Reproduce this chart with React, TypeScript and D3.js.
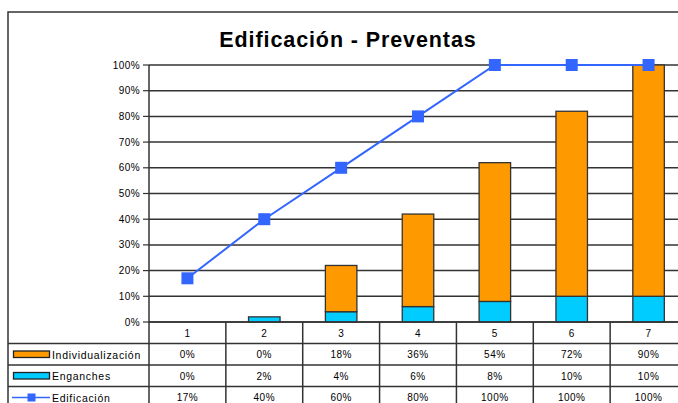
import React from "react";
import * as d3 from "d3";

const categories = ["1", "2", "3", "4", "5", "6", "7"];
const individualizacion = [0, 0, 18, 36, 54, 72, 90];
const enganches = [0, 2, 4, 6, 8, 10, 10];
const edificacion = [17, 40, 60, 80, 100, 100, 100];
const yTicks = [0, 10, 20, 30, 40, 50, 60, 70, 80, 90, 100];
const seriesNames = ["Individualización", "Enganches", "Edificación"];

const W = 678;
const H = 403;
const plotLeft = 149;
const plotRight = 687;
const plotTop = 65;
const plotBottom = 322;
const rowH = 21.5;
const frameX = 8;
const frameY = 12;

const ORANGE = "#FF9900";
const CYAN = "#00CCFF";
const BLUE = "#3366FF";
const GRID = "#333333";

export default function App() {
  const x = d3.scaleBand<string>().domain(categories).range([plotLeft, plotRight]).paddingInner(0).paddingOuter(0);
  const y = d3.scaleLinear().domain([0, 100]).range([plotBottom, plotTop]);
  const barW = x.bandwidth() * 0.41;
  const cx = (c: string) => (x(c) as number) + x.bandwidth() / 2;
  const fmt = (v: number) => `${v}%`;

  const line = d3
    .line<number>()
    .x((_, i) => cx(categories[i]))
    .y((d) => y(d));

  const rows = [individualizacion, enganches, edificacion];
  const rowTop = (r: number) => plotBottom + rowH * (r + 1);
  const tableBottom = rowTop(3);
  const font = "'Liberation Sans', Arial, sans-serif";

  return (
    <svg width={W} height={H} style={{ position: "absolute", left: 0, top: 0, background: "#fff" }} fontFamily={font}>
      <rect x={0} y={0} width={W} height={H} fill="#fff" />
      {/* frame */}
      <path d={`M${frameX},${H + 5} V${frameY} H${W + 5}`} fill="none" stroke="#333" strokeWidth={1.5} />
      <text x={348} y={47} textAnchor="middle" fontSize={21.5} fontWeight="bold" letterSpacing={0.9} fill="#000">
        Edificación - Preventas
      </text>
      {/* grid */}
      {yTicks.map((t) => (
        <g key={t}>
          <line x1={plotLeft} x2={W + 5} y1={y(t)} y2={y(t)} stroke={GRID} strokeWidth={1.5} />
          <line x1={plotLeft - 6} x2={plotLeft} y1={y(t)} y2={y(t)} stroke={GRID} strokeWidth={1.2} />
          <text x={plotLeft - 9} y={y(t) + 3.5} textAnchor="end" fontSize={10} letterSpacing={0.4} fill="#000">
            {fmt(t)}
          </text>
        </g>
      ))}
      {/* bars */}
      {categories.map((c, i) => {
        const x0 = cx(c) - barW / 2;
        const e = enganches[i];
        const ind = individualizacion[i];
        return (
          <g key={c}>
            {e > 0 && (
              <rect x={x0} y={y(e)} width={barW} height={y(0) - y(e)} fill={CYAN} stroke={GRID} strokeWidth={1.3} />
            )}
            {ind > 0 && (
              <rect x={x0} y={y(e + ind)} width={barW} height={y(e) - y(e + ind)} fill={ORANGE} stroke={GRID} strokeWidth={1.3} />
            )}
          </g>
        );
      })}
      {/* line */}
      <path d={line(edificacion) || ""} fill="none" stroke={BLUE} strokeWidth={2} />
      {edificacion.map((v, i) => (
        <rect key={i} x={cx(categories[i]) - 6} y={y(v) - 6} width={12} height={12} fill={BLUE} />
      ))}
      {/* y axis */}
      <line x1={plotLeft} x2={plotLeft} y1={plotTop} y2={tableBottom + 5} stroke={GRID} strokeWidth={1.5} />
      {/* table */}
      {[0, 1, 2].map((r) => (
        <line key={r} x1={frameX} x2={W + 5} y1={rowTop(r)} y2={rowTop(r)} stroke={GRID} strokeWidth={1.5} />
      ))}
      <line x1={plotLeft} x2={W + 5} y1={plotBottom} y2={plotBottom} stroke={GRID} strokeWidth={1.5} />
      {categories.map((c) => (
        <line key={c} x1={(x(c) as number) + x.bandwidth()} x2={(x(c) as number) + x.bandwidth()} y1={plotBottom} y2={tableBottom + 5} stroke={GRID} strokeWidth={1.5} />
      ))}
      {categories.map((c) => (
        <text key={c} x={cx(c)} y={plotBottom + 14.5} textAnchor="middle" fontSize={10} letterSpacing={0.4} fill="#000">
          {c}
        </text>
      ))}
      {rows.map((vals, r) =>
        vals.map((v, i) => (
          <text key={`${r}-${i}`} x={cx(categories[i])} y={rowTop(r) + 14.5} textAnchor="middle" fontSize={10} letterSpacing={0.5} fill="#000">
            {fmt(v)}
          </text>
        ))
      )}
      {/* legend keys */}
      <rect x={13.5} y={rowTop(0) + 7.5} width={36} height={6.5} fill={ORANGE} stroke="#222" strokeWidth={1.3} />
      <rect x={13.5} y={rowTop(1) + 7.5} width={36} height={6.5} fill={CYAN} stroke="#222" strokeWidth={1.3} />
      <line x1={12} x2={50} y1={rowTop(2) + 11} y2={rowTop(2) + 11} stroke={BLUE} strokeWidth={1.3} />
      <rect x={27.5} y={rowTop(2) + 7} width={8} height={8} fill={BLUE} />
      {seriesNames.map((n, r) => (
        <text key={n} x={52} y={rowTop(r) + 15} fontSize={10.5} letterSpacing={0.7} fill="#000">
          {n}
        </text>
      ))}
    </svg>
  );
}
